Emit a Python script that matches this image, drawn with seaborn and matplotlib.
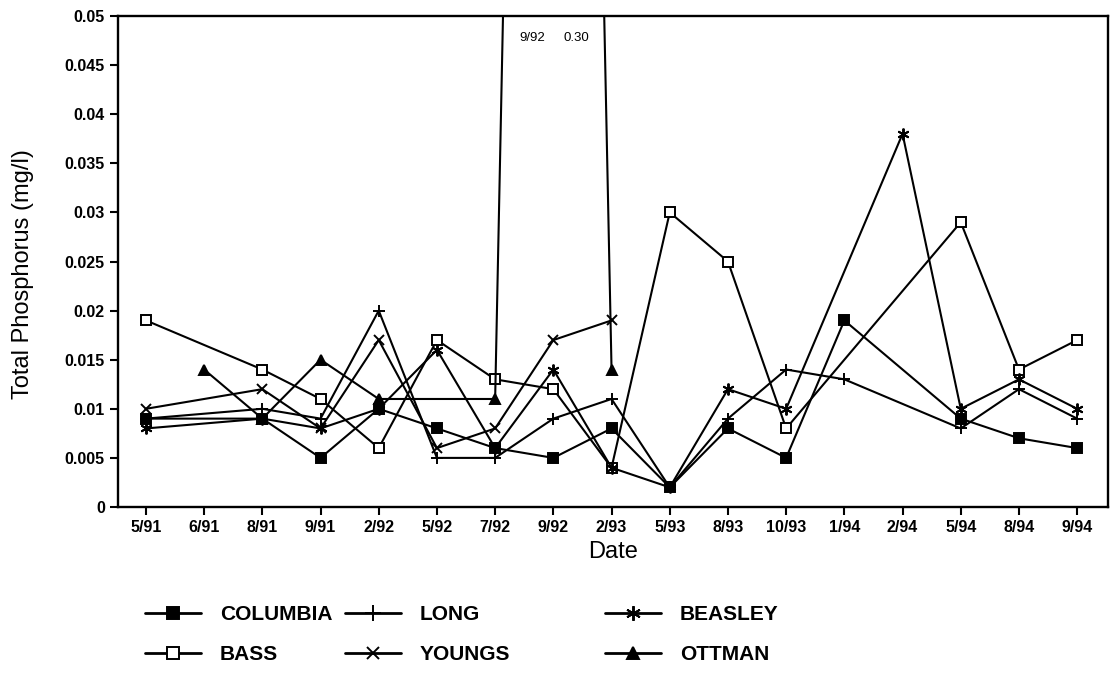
import numpy as np
import pandas as pd
import matplotlib
matplotlib.use("Agg")
import matplotlib.pyplot as plt
from matplotlib.ticker import FixedLocator, FixedFormatter
import seaborn as sns

# ---------------- data ----------------
dates = ["5/91", "6/91", "8/91", "9/91", "2/92", "5/92", "7/92", "9/92", "2/93",
         "5/93", "8/93", "10/93", "1/94", "2/94", "5/94", "8/94", "9/94"]
N = np.nan
columbia = [0.009, N, 0.009, 0.005, 0.010, 0.008, 0.006, 0.005, 0.008,
            0.002, 0.008, 0.005, 0.019, N, 0.009, 0.007, 0.006]
bass = [0.019, N, 0.014, 0.011, 0.006, 0.017, 0.013, 0.012, 0.004,
        0.030, 0.025, 0.008, N, N, 0.029, 0.014, 0.017]
long_lake = [0.009, N, 0.010, 0.009, 0.020, 0.005, 0.005, 0.009, 0.011,
             0.002, 0.009, 0.014, 0.013, N, 0.008, 0.012, 0.009]
youngs = [0.010, N, 0.012, 0.008, 0.017, 0.006, 0.008, 0.017, 0.019,
          N, N, N, N, N, N, N, N]
beasley = [0.008, N, 0.009, 0.008, 0.010, 0.016, 0.006, 0.014, 0.004,
           0.002, 0.012, 0.010, N, 0.038, 0.010, 0.013, 0.010]
ottman = [N, 0.014, 0.009, 0.015, 0.011, N, 0.011, 0.30, 0.014,
          N, N, N, N, N, N, N, N]

lakes = ["COLUMBIA", "BASS", "LONG", "YOUNGS", "BEASLEY", "OTTMAN"]
series = [columbia, bass, long_lake, youngs, beasley, ottman]

y_ticks = [0, 0.005, 0.01, 0.015, 0.02, 0.025, 0.03, 0.035, 0.04, 0.045, 0.05]
y_tick_labels = ["0", "0.005", "0.01", "0.015", "0.02", "0.025", "0.03",
                 "0.035", "0.04", "0.045", "0.05"]
note_date, note_value = "9/92", "0.30"

# ---------------- style ----------------
styles = {
    "COLUMBIA": dict(marker="s", markersize=6.5, markerfacecolor="black"),
    "BASS": dict(marker="s", markersize=6.5, markerfacecolor="white"),
    "LONG": dict(marker="+", markersize=9),
    "YOUNGS": dict(marker="x", markersize=7),
    "BEASLEY": dict(marker=(6, 2, 0), markersize=8.5),
    "OTTMAN": dict(marker="^", markersize=6.5, markerfacecolor="black"),
}

sns.set_theme(style="ticks")
plt.rcParams["font.family"] = ["Liberation Sans", "DejaVu Sans"]
plt.rcParams["text.color"] = "black"
plt.rcParams["axes.labelcolor"] = "black"
plt.rcParams["xtick.color"] = "black"
plt.rcParams["ytick.color"] = "black"

rows = []
for name, vals in zip(lakes, series):
    for i, v in enumerate(vals):
        rows.append({"lake": name, "idx": i, "value": v})
df = pd.DataFrame(rows).dropna()

fig = plt.figure(figsize=(11.11, 6.79), dpi=100)
ax = fig.add_axes([118 / 1111, 1 - 507 / 679, (1108 - 118) / 1111, (507 - 16) / 679])

for name in lakes:
    sub = df[df["lake"] == name]
    sns.lineplot(data=sub, x="idx", y="value", ax=ax, color="black",
                 linewidth=1.5, markeredgecolor="black", markeredgewidth=1.4,
                 estimator=None, sort=True, label=name, **styles[name])

ax.set_xlim(-0.48, 16.53)
ax.set_ylim(0, 0.05)
ax.xaxis.set_major_locator(FixedLocator(list(range(len(dates)))))
ax.xaxis.set_major_formatter(FixedFormatter(dates))
ax.yaxis.set_major_locator(FixedLocator(y_ticks))
ax.yaxis.set_major_formatter(FixedFormatter(y_tick_labels))
ax.tick_params(axis="both", direction="out", length=6, width=1.5,
               color="black", labelsize=11.5, labelcolor="black")
for lab in ax.get_xticklabels() + ax.get_yticklabels():
    lab.set_fontweight("bold")
for sp in ax.spines.values():
    sp.set_visible(True)
    sp.set_linewidth(1.7)
    sp.set_color("black")

ax.set_xlabel("Date", fontsize=17, color="black", labelpad=4)
ax.set_ylabel("Total Phosphorus (mg/l)", fontsize=17, color="black")
ax.yaxis.set_label_coords(-0.085, 0.475)

ax.text(6.41, 0.0478, note_date, fontsize=9.5, va="center", ha="left", color="black")
ax.text(7.17, 0.0478, note_value, fontsize=9.5, va="center", ha="left", color="black")

handles, labels = ax.get_legend_handles_labels()
if ax.get_legend() is not None:
    ax.get_legend().remove()
hmap = dict(zip(labels, handles))

col_x = [145, 345, 605]
columns = [["COLUMBIA", "BASS"], ["LONG", "YOUNGS"], ["BEASLEY", "OTTMAN"]]
for cx, names in zip(col_x, columns):
    leg = fig.legend([hmap[n] for n in names], names, loc="upper left",
                     bbox_to_anchor=(cx / 1111, 1 - 605 / 679), frameon=False,
                     prop={"weight": "bold", "size": 15}, handlelength=2.7,
                     handletextpad=0.9, labelspacing=1.02, borderpad=0,
                     borderaxespad=0, labelcolor="black")
    for ln in leg.get_lines():
        ln.set_linewidth(2.0)
        ln.set_markersize(ln.get_markersize() * 1.25)

fig.savefig("out.png", dpi=100, facecolor="white")
